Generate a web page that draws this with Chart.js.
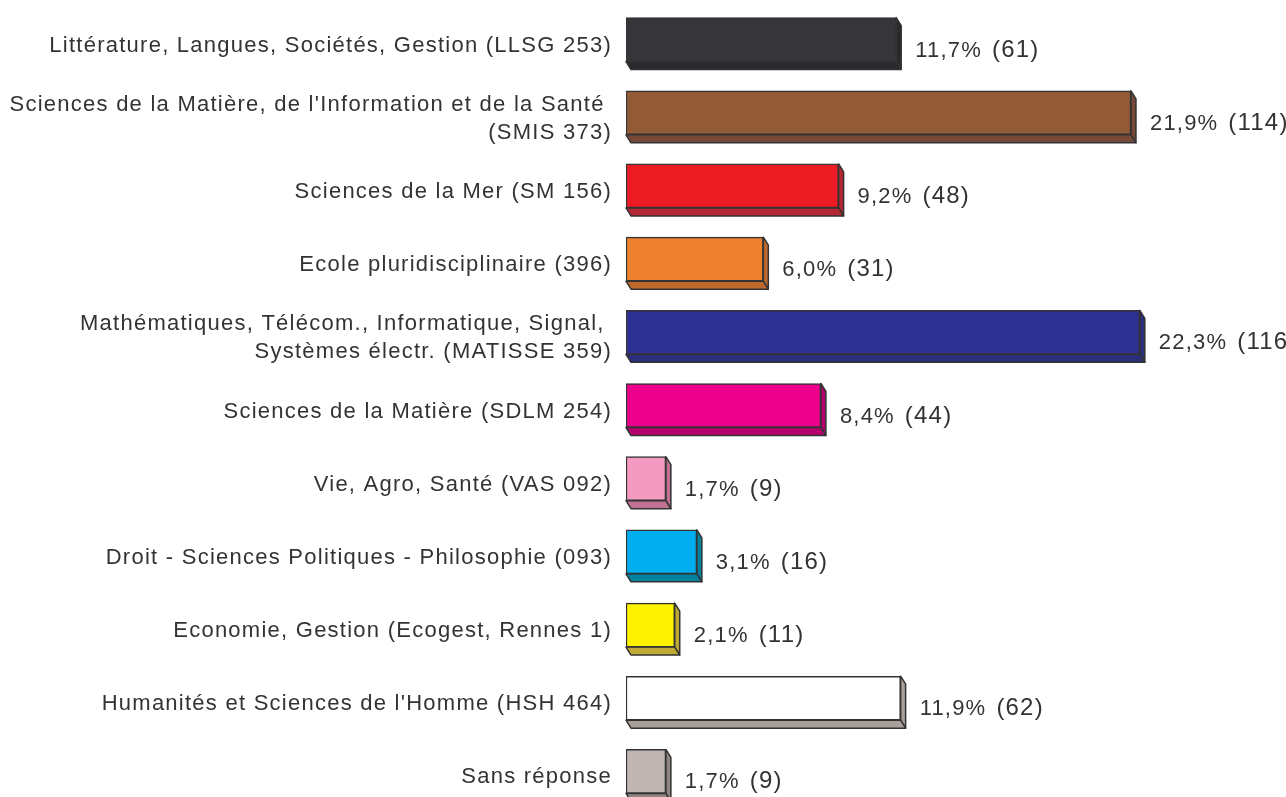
<!DOCTYPE html>
<html lang="fr">
<head>
  <meta charset="UTF-8">
  <title>Répartition par école doctorale</title>
  <style>
    html, body {
      margin: 0;
      padding: 0;
      background: #ffffff;
      overflow: hidden;
    }
    .chart-box {
      position: relative;
      width: 1286px;
      height: 812px;
    }
  </style>
</head>
<body>
  <div class="chart-box">
    <canvas id="chart"></canvas>
  </div>
  <script src="https://cdn.jsdelivr.net/npm/chart.js"></script>
  <script>
    // categories (schools), read top to bottom
    const categories = [
      'Littérature, Langues, Sociétés, Gestion (LLSG 253)',
      ['Sciences de la Matière, de l\'Information et de la Santé ', '(SMIS 373)'],
      'Sciences de la Mer (SM 156)',
      'Ecole pluridisciplinaire (396)',
      ['Mathématiques, Télécom., Informatique, Signal, ', 'Systèmes électr. (MATISSE 359)'],
      'Sciences de la Matière (SDLM 254)',
      'Vie, Agro, Santé (VAS 092)',
      'Droit - Sciences Politiques - Philosophie (093)',
      'Economie, Gestion (Ecogest, Rennes 1)',
      'Humanités et Sciences de l\'Homme (HSH 464)',
      'Sans réponse'
    ];
    const counts = [61, 114, 48, 31, 116, 44, 9, 16, 11, 62, 9];
    const percents = ['11,7%', '21,9%', '9,2%', '6,0%', '22,3%', '8,4%', '1,7%', '3,1%', '2,1%', '11,9%', '1,7%'];

    const frontColors = ['#36353a', '#935a36', '#ed1c24', '#ee8230', '#2e3192', '#ec008c',
                         '#f49ac1', '#00aeef', '#fff200', '#ffffff', '#c0b7b3'];
    const sideColors = ['#2a292d', '#774a38', '#b52732', '#c0692e', '#2b2e78', '#b5006e',
                        '#c07090', '#00829f', '#bfaa35', '#a89e9a', '#8f8581'];

    const FONT = 'Liberation Sans, Arial, Helvetica, sans-serif';
    const DX = 5, DY = 8;

    // side and bottom faces behind each bar, from the bar element geometry
    const depthPlugin = {
      id: 'depth',
      beforeDraw(chart) {
        chart.ctx.letterSpacing = '1.25px';
      },
      beforeDatasetsDraw(chart) {
        const ctx = chart.ctx;
        const meta = chart.getDatasetMeta(0);
        ctx.save();
        ctx.lineWidth = 1.5;
        ctx.strokeStyle = '#333333';
        ctx.lineJoin = 'round';
        meta.data.forEach((bar, i) => {
          const p = bar.getProps(['x', 'y', 'base', 'height'], true);
          const x0 = p.base, x1 = p.x;
          const y0 = p.y - p.height / 2, y1 = p.y + p.height / 2;
          ctx.fillStyle = sideColors[i];
          // right side
          ctx.beginPath();
          ctx.moveTo(x1, y0);
          ctx.lineTo(x1 + DX, y0 + DY);
          ctx.lineTo(x1 + DX, y1 + DY);
          ctx.lineTo(x1, y1);
          ctx.closePath();
          ctx.fill();
          ctx.stroke();
          // bottom
          ctx.beginPath();
          ctx.moveTo(x0, y1);
          ctx.lineTo(x1, y1);
          ctx.lineTo(x1 + DX, y1 + DY);
          ctx.lineTo(x0 + DX, y1 + DY);
          ctx.closePath();
          ctx.fill();
          ctx.stroke();
        });
        ctx.restore();
      },
      afterDatasetsDraw(chart) {
        const ctx = chart.ctx;
        const meta = chart.getDatasetMeta(0);
        ctx.save();
        ctx.fillStyle = '#333333';
        ctx.textAlign = 'left';
        ctx.textBaseline = 'alphabetic';
        ctx.letterSpacing = '1.2px';
        meta.data.forEach((bar, i) => {
          const p = bar.getProps(['x', 'y'], true);
          let tx = p.x + 19;
          const ty = p.y + 17;
          ctx.font = '22px ' + FONT;
          ctx.fillText(percents[i], tx, ty);
          tx += ctx.measureText(percents[i]).width + 10;
          ctx.font = '24px ' + FONT;
          ctx.fillText('(' + counts[i] + ')', tx, ty);
        });
        ctx.restore();
      }
    };

    new Chart(document.getElementById('chart'), {
      type: 'bar',
      data: {
        labels: categories,
        datasets: [{
          data: counts,
          backgroundColor: frontColors,
          borderColor: '#333333',
          borderWidth: 1.5,
          borderSkipped: false,
          barThickness: 44
        }]
      },
      options: {
        indexAxis: 'y',
        responsive: true,
        maintainAspectRatio: false,
        animation: false,
        layout: { padding: { top: 3, bottom: 4, left: 0, right: 0 } },
        plugins: {
          legend: { display: false },
          tooltip: { enabled: false }
        },
        scales: {
          x: {
            display: false,
            min: 0,
            max: 149
          },
          y: {
            grid: { display: false, drawTicks: false },
            border: { display: false },
            ticks: {
              autoSkip: false,
              padding: 14,
              labelOffset: 6,
              color: '#333333',
              font: { family: FONT, size: 22, lineHeight: 1.27 }
            },
            afterFit(scale) {
              scale.width = 626;
              scale.paddingTop = 0;
              scale.paddingBottom = 0;
            }
          }
        }
      },
      plugins: [depthPlugin]
    });
  </script>
</body>
</html>
